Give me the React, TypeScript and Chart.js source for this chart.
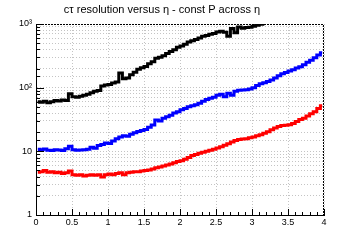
import React, { useEffect, useRef } from "react";
import { Chart, registerables } from "chart.js";

Chart.register(...registerables);

const titleText = "cτ resolution versus η - const P across η";

const etaCenters = [
  0.025, 0.075, 0.125, 0.175, 0.225, 0.275, 0.325, 0.375, 0.425, 0.475,
  0.525, 0.575, 0.625, 0.675, 0.725, 0.775, 0.825, 0.875, 0.925, 0.975,
  1.025, 1.075, 1.125, 1.175, 1.225, 1.275, 1.325, 1.375, 1.425, 1.475,
  1.525, 1.575, 1.625, 1.675, 1.725, 1.775, 1.825, 1.875, 1.925, 1.975,
  2.025, 2.075, 2.125, 2.175, 2.225, 2.275, 2.325, 2.375, 2.425, 2.475,
  2.525, 2.575, 2.625, 2.675, 2.725, 2.775, 2.825, 2.875, 2.925, 2.975,
  3.025, 3.075, 3.125, 3.175, 3.225, 3.275, 3.325, 3.375, 3.425, 3.475,
  3.525, 3.575, 3.625, 3.675, 3.725, 3.775, 3.825, 3.875, 3.925, 3.975,
];

const blackValues = [
  60, 59, 61, 58, 60, 63, 62, 64, 63, 80,
  72, 71, 73, 76, 79, 83, 88, 90, 106, 110,
  112, 118, 123, 170, 138, 142, 160, 175, 195, 205,
  215, 238, 255, 290, 300, 318, 345, 370, 395, 430,
  450, 480, 520, 545, 570, 600, 640, 660, 690, 710,
  750, 770, 740, 640, 850, 730, 900, 860, 880, 890,
  920, 960, 990, 1080,
];

const blueValues = [
  10.8, 10.6, 10.9, 10.4, 10.3, 10.6, 10.5, 10.3, 11.0, 12.0,
  10.6, 10.4, 10.5, 10.6, 10.8, 11.6, 11.2, 12.3, 12.8, 13.5,
  13.3, 14.5, 15.8, 16.8, 17.5, 17.2, 18.5, 19.5, 20.5, 21.3,
  22.0, 24.0, 26.0, 31.0, 30.0, 33, 35, 37, 40, 42,
  45, 47, 50, 52, 54, 57, 61, 65, 68, 71,
  76, 79, 72, 82, 76, 88, 91, 92, 93, 95,
  100, 108, 115, 120, 125, 132, 142, 154, 165, 173,
  182, 192, 203, 214, 230, 250, 270, 295, 325, 355,
];

const redValues = [
  4.7, 4.8, 5.0, 4.7, 4.8, 4.6, 4.7, 4.5, 4.6, 4.9,
  4.3, 4.2, 4.3, 4.1, 4.2, 4.3, 4.2, 4.3, 3.95, 4.3,
  4.4, 4.3, 4.5, 4.6, 4.3, 4.6, 4.7, 4.8, 4.8, 4.9,
  5.0, 5.1, 5.3, 5.5, 5.7, 5.9, 6.1, 6.3, 6.6, 6.9,
  7.1, 7.5, 8.0, 8.6, 8.9, 9.3, 9.7, 10.0, 10.4, 10.8,
  11.3, 11.8, 12.5, 13.2, 14.0, 14.8, 15.4, 15.6, 15.8, 16.3,
  16.8, 17.5, 18.2, 19.2, 20.3, 21.8, 23.3, 24.6, 25.5, 25.8,
  26.2, 27.3, 29.5, 31.5, 33, 36, 39, 42, 47, 52,
];

const seriesColors = ["#000000", "#0000ff", "#ff0000"];

const yDecadeLabels: Record<number, string> = { 1: "1", 10: "10", 100: "10²", 1000: "10³" };

const FONT = "'Liberation Sans', Arial, Helvetica, sans-serif";

function toPoints(vals: number[]) {
  return vals.map((v, i) => ({ x: etaCenters[i], y: v }));
}

const rootFrame = {
  id: "rootFrame",
  afterDatasetsDraw(chart: any) {
    const { ctx, chartArea: a, scales } = chart;
    const xs = scales.x;
    const ys = scales.y;
    ctx.save();
    ctx.strokeStyle = "#000";
    ctx.lineWidth = 1;
    ctx.beginPath();
    for (let i = 0; i <= 40; i++) {
      const px = Math.round(xs.getPixelForValue(i / 10)) + 0.5;
      const len = i % 5 === 0 ? 6 : 3;
      ctx.moveTo(px, a.bottom);
      ctx.lineTo(px, a.bottom - len);
    }
    ys.ticks.forEach((t: any) => {
      const py = Math.round(ys.getPixelForValue(t.value)) + 0.5;
      const major = yDecadeLabels[t.value] !== undefined;
      const len = major ? 8 : 4;
      ctx.moveTo(a.left, py);
      ctx.lineTo(a.left + len, py);
    });
    ctx.stroke();
    ctx.setLineDash([2, 1]);
    ctx.beginPath();
    const top = Math.round(a.top) + 0.5;
    const right = Math.round(a.right) - 0.5;
    ctx.moveTo(a.left, top);
    ctx.lineTo(right, top);
    ctx.lineTo(right, a.bottom);
    ctx.stroke();
    ctx.restore();
  },
};

export default function App() {
  const ref = useRef<HTMLCanvasElement | null>(null);
  useEffect(() => {
    if (!ref.current) return;
    const datasets = [blackValues, blueValues, redValues].map((vals, i) => ({
      data: toPoints(vals),
      borderColor: seriesColors[i],
      backgroundColor: seriesColors[i],
      borderWidth: 3,
      pointRadius: 0,
      stepped: "middle" as const,
      fill: false,
    }));
    const chart = new Chart(ref.current, {
      type: "line",
      data: { datasets },
      options: {
        animation: false,
        responsive: false,
        layout: { padding: { left: 0, right: 36, top: 0, bottom: 0 } },
        plugins: {
          legend: { display: false },
          tooltip: { enabled: false },
          title: {
            display: true,
            text: titleText,
            color: "#000",
            font: { family: FONT, size: 11, weight: "normal", lineHeight: 1.2 },
            padding: { top: 3.4, bottom: 7.4 },
          },
        },
        scales: {
          x: {
            type: "linear",
            min: 0,
            max: 4,
            afterFit: (s: any) => {
              s.height = 25;
            },
            ticks: {
              stepSize: 0.5,
              color: "#000",
              font: { family: FONT, size: 9 },
              padding: 2,
              maxRotation: 0,
              autoSkip: false,
              callback: (v: any) => String(v),
            },
            grid: { color: "#c4c4c4", drawTicks: false, lineWidth: 1 },
            border: { display: true, color: "#000", width: 1, dash: [1, 2] },
          },
          y: {
            type: "logarithmic",
            min: 1,
            max: 1000,
            afterFit: (s: any) => {
              s.width = 36;
            },
            ticks: {
              color: "#000",
              font: { family: FONT, size: 9 },
              padding: 4,
              autoSkip: false,
              callback: (v: any) => yDecadeLabels[Number(v)] ?? "",
            },
            grid: { color: "#c4c4c4", drawTicks: false, lineWidth: 1 },
            border: { display: true, color: "#000", width: 1, dash: [1, 2] },
          },
        },
      },
      plugins: [rootFrame],
    });
    return () => chart.destroy();
  }, []);
  return (
    <div style={{ position: "absolute", left: 0, top: 0, width: 360, height: 240, background: "#fff" }}>
      <canvas ref={ref} width={360} height={240} style={{ display: "block" }} />
    </div>
  );
}
